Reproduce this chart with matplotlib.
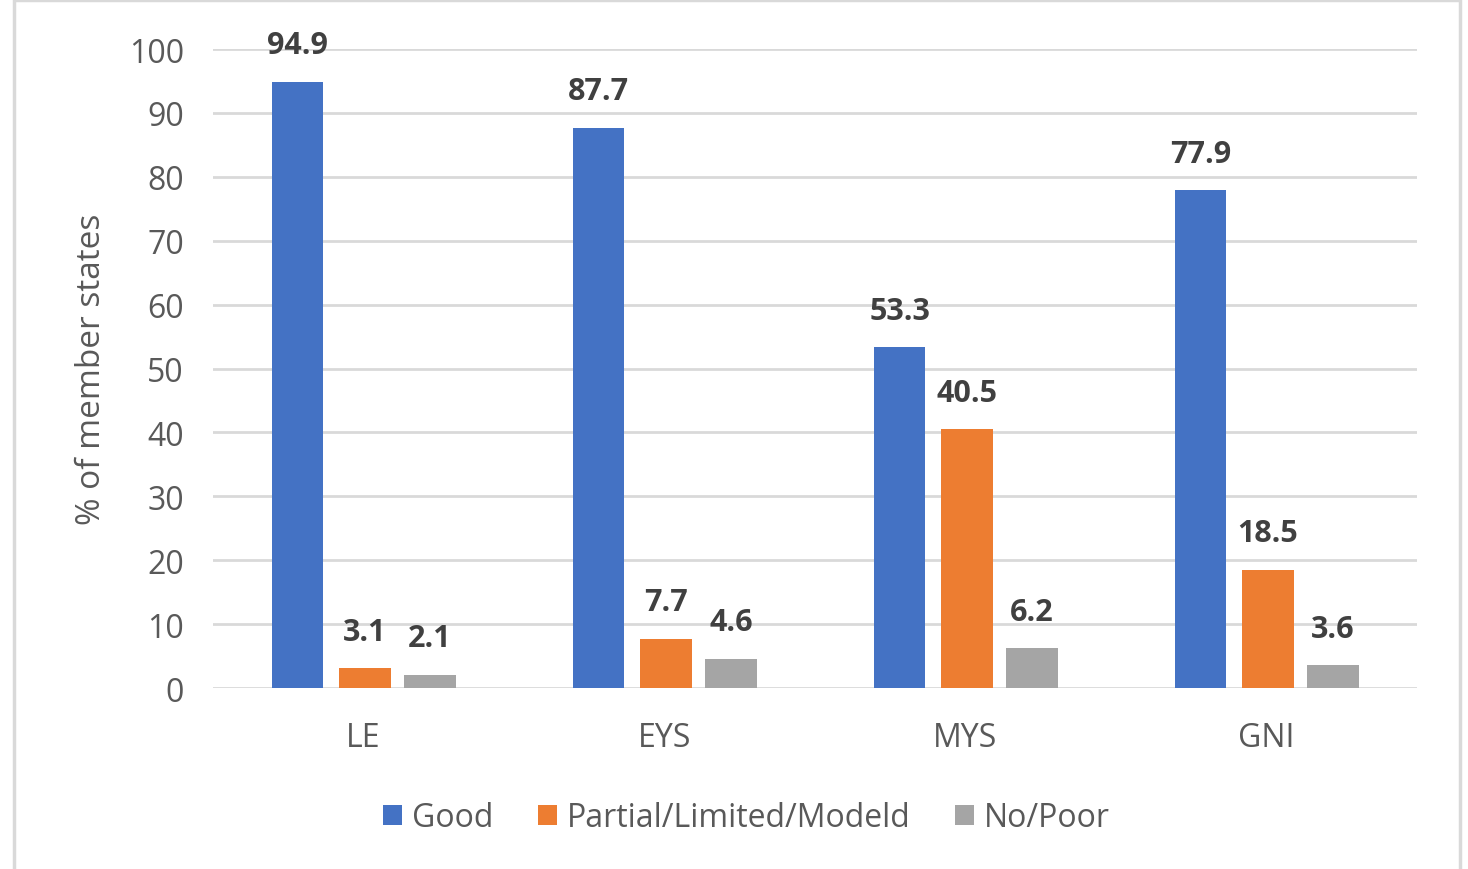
import numpy as np
import matplotlib.pyplot as plt
from matplotlib.patches import Rectangle

# data
categories = ['LE', 'EYS', 'MYS', 'GNI']
good = [94.9, 87.7, 53.3, 77.9]
partial = [3.1, 7.7, 40.5, 18.5]
poor = [2.1, 4.6, 6.2, 3.6]
series_names = ['Good', 'Partial/Limited/Modeld', 'No/Poor']

colors = ['#4472C4', '#ED7D31', '#A5A5A5']
text_col = '#595959'
label_col = '#404040'

plt.rcParams['font.family'] = ['Open Sans', 'DejaVu Sans']

fig = plt.figure(figsize=(14.68, 8.70), dpi=100)
ax = fig.add_axes([213 / 1468, 0.208, 1204 / 1468, 0.7345])

# chart border like the Excel chart area
fig.patches.append(Rectangle((14 / 1468, -0.05), (1460 - 14) / 1468, (863 + 50) / 870,
                             transform=fig.transFigure, fill=False,
                             edgecolor='#D9D9D9', linewidth=2.5))

x = np.arange(len(categories))
width = 0.171
offsets = [-0.219, 0.005, 0.221]

for vals, off, col, name in zip([good, partial, poor], offsets, colors, series_names):
    bars = ax.bar(x + off, vals, width, color=col, label=name, zorder=3)
    for b, v in zip(bars, vals):
        ax.text(b.get_x() + b.get_width() / 2, v + 5.7, f'{v:.1f}',
                ha='center', va='center', fontsize=22, fontweight='bold',
                color=label_col, zorder=4)

ax.set_xlim(-0.5, 3.5)
ax.set_ylim(0, 100)
ax.set_yticks(np.arange(0, 101, 10))
ax.set_xticks(x)
ax.set_xticklabels(categories)
ax.yaxis.grid(True, color='#D9D9D9', linewidth=2, zorder=0)
ax.set_axisbelow(True)
for s in ax.spines.values():
    s.set_visible(False)
ax.tick_params(axis='both', length=0, labelsize=23, colors=text_col)
ax.tick_params(axis='y', pad=21)
ax.tick_params(axis='x', pad=24)
ax.set_ylabel('% of member states', fontsize=24, color=text_col, labelpad=15)

leg = ax.legend(loc='upper center', bbox_to_anchor=(0.443, -0.132), ncol=3,
                frameon=False, fontsize=23, handlelength=0.6, handleheight=0.6,
                handletextpad=0.3, columnspacing=1.4)
for t in leg.get_texts():
    t.set_color(text_col)

fig.savefig('out.png', dpi=100)
